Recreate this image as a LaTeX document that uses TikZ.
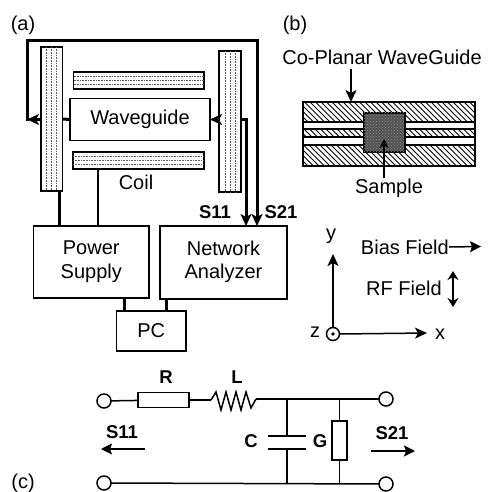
\documentclass[tikz,border=0pt]{standalone}
\usepackage{fontspec}
\setmainfont{Liberation Sans}
\usetikzlibrary{arrows.meta,patterns,calc}
\tikzset{
  box/.style={draw=black,line width=1.6pt,fill=white,inner sep=0pt,outer sep=0pt,font=\fontsize{20}{23.5}\selectfont,align=center},
  coilbox/.style={draw=black,line width=1.8pt,fill=white,inner sep=0pt,outer sep=0pt},
  stripe/.style={line width=1pt,black!65,dash pattern=on 0.8pt off 0.8pt},
  txt/.style={inner sep=0pt,font=\fontsize{20}{23.5}\selectfont},
  blab/.style={inner sep=0pt,font=\fontsize{18.5}{20}\bfseries\selectfont},
  wire/.style={line width=1.5pt},
  thk/.style={line width=3pt},
  tip/.style={-{Stealth[length=12pt,width=11pt,inset=3pt]}},
  smalltip/.style={-{Stealth[length=11pt,width=11pt,inset=2pt]}},
  term/.style={circle,draw=black,line width=1.5pt,fill=white,minimum size=14pt,inner sep=0pt,outer sep=0pt}
}
\begin{document}
\begin{tikzpicture}[x=1pt,y=-1pt]
\useasboundingbox (0,0) rectangle (489,492);
% ---------- (a)
\node[txt] (la) at (23,25) {(a)};
\node[coilbox,minimum width=21.5pt,minimum height=144pt] (lc) at (51.75,119) {};
\node[coilbox,minimum width=22pt,minimum height=141pt] (rc) at (230,121.5) {};
\node[coilbox,minimum width=130.5pt,minimum height=17pt] (tc) at (138.75,80.5) {};
\node[coilbox,minimum width=131pt,minimum height=17pt] (bc) at (138.5,160.5) {};
\foreach \d in {-5,0,5}{
  \draw[stripe] ($(lc.north)+(\d,0)$) -- ($(lc.south)+(\d,0)$);
  \draw[stripe] ($(rc.north)+(\d,0)$) -- ($(rc.south)+(\d,0)$);
}
\foreach \d in {-4,0,4}{
  \draw[stripe] ($(tc.west)+(0,\d)$) -- ($(tc.east)+(0,\d)$);
  \draw[stripe] ($(bc.west)+(0,\d)$) -- ($(bc.east)+(0,\d)$);
}
\node[box,minimum width=140pt,minimum height=42pt] (wg) at (140,119.5) {Waveguide};
\node[txt] (coil) at (136,182) {Coil};
\node[box,minimum width=115.5pt,minimum height=72pt,text depth=5pt] (ps) at (91.25,262) {Power\\Supply};
\node[box,minimum width=127pt,minimum height=73pt,text depth=5pt] (na) at (223.5,262.5) {Network\\Analyzer};
\node[box,minimum width=69.5pt,minimum height=40pt] (pc) at (151.25,331) {PC};
\coordinate (s11x) at (246,0);
\coordinate (s21x) at (257,0);
\coordinate (frameL) at (27,0);
\coordinate (frameT) at (0,41);
\draw[thk] (wg.west) -- (lc.east);
\draw[thk,tip] (lc.west |- wg.west) -- (frameL |- wg.west);
\draw[thk,line cap=rect] (frameL |- wg.west) -- (frameL |- frameT) -- (s21x |- frameT) -- (s21x |- 0,215);
\draw[thk,tip] (s21x |- 0,205) -- (s21x |- na.north);
\draw[thk,tip] (rc.west |- wg.east) -- (wg.east);
\draw[thk] (rc.east |- wg.east) -- (s11x |- wg.east) -- (s11x |- 0,215);
\draw[thk,tip] (s11x |- 0,205) -- (s11x |- na.north);
\draw[thk] (lc.south -| 59,0) -- (ps.north -| 59,0);
\draw[line width=2.4pt] (bc.south -| 98,0) -- (ps.north -| 98,0);
\draw[thk] (ps.south -| 124,0) -- (pc.north -| 124,0);
\draw[thk] (na.south -| 166,0) -- (pc.north -| 166,0);
\node[blab] (s11a) at (215,212) {S11};
\node[blab] (s21a) at (281,212) {S21};
% ---------- axes
\node[circle,draw=black,line width=1.5pt,minimum size=13pt,inner sep=0pt,outer sep=0pt] (o) at (333,334) {};
\fill (o.center) circle (1.8);
\node[txt] (zl) at (315,332) {z};
\node[txt] (yl) at (331,236) {y};
\node[txt] (xl) at (440,334) {x};
\coordinate (ya) at (333,254);
\coordinate (xa) at (427,333);
\draw[wire,tip] (o.north) -- (ya);
\draw[wire,tip] (o.east) -- (xa);
\node[txt,anchor=east] (bf) at (449,247) {Bias Field};
\coordinate (bfe) at (481,246.5);
\draw[wire,smalltip] (bf.east) -- (bfe);
\node[txt,anchor=east] (rf) at (442,288) {RF Field};
\coordinate (rf1) at (453,271);
\coordinate (rf2) at (453,307);
\draw[line width=2pt,{Stealth[length=9pt,width=11pt]}-{Stealth[length=9pt,width=11pt]}] (rf1) -- (rf2);
% ---------- (b)
\node[txt] (lb) at (295,25) {(b)};
\node[txt] (cp) at (382,57) {Co-Planar WaveGuide};
\coordinate (cpa1) at (351,69);
\node[inner sep=0pt,outer sep=0pt,minimum width=172pt,minimum height=64pt] (cpw) at (389,134) {};
\begin{scope}
\clip (cpw.south west) rectangle (cpw.north east);
\foreach \k in {-70,-64.5,...,175}{
  \draw[line width=1pt] ($(cpw.north west)+(\k,0)$) -- ++(66,66);
}
\end{scope}
\draw[line width=1.8pt] (cpw.south west) rectangle (cpw.north east);
\node[inner sep=0pt,outer sep=0pt,minimum width=172pt,minimum height=7pt,fill=white,draw=black,line width=1.5pt] (gap1) at (389,125.5) {};
\node[inner sep=0pt,outer sep=0pt,minimum width=172pt,minimum height=8pt,fill=white,draw=black,line width=1.5pt] (gap2) at (389,141) {};
\node[inner sep=0pt,outer sep=0pt,minimum width=41pt,minimum height=39pt,draw=black,line width=1.5pt,fill=black!68] (smp) at (384.5,132.5) {};
\fill[pattern=crosshatch dots,pattern color=white!55!black] (smp.south west) rectangle (smp.north east);
\draw[wire,tip] (cpa1) -- (cpw.north -| cpa1);
\node[txt] (sl) at (389,188) {Sample};
\draw[wire,{Stealth[length=9pt,width=9pt]}-] (384,139) -- (384,178);
% ---------- (c)
\node[txt] (lc2) at (23,483) {(c)};
\node[term] (t1) at (104,401) {};
\node[term] (t2) at (386,399) {};
\node[term] (t3) at (104,483) {};
\node[term] (t4) at (386,484) {};
\node[draw=black,line width=1.5pt,inner sep=0pt,outer sep=0pt,minimum width=51pt,minimum height=15pt] (rr) at (163.5,400) {};
\node[draw=black,line width=1.5pt,inner sep=0pt,outer sep=0pt,minimum width=15pt,minimum height=39pt] (gg) at (339.5,440.5) {};
\node[blab] (rl) at (166,377) {R};
\node[blab] (ll) at (237,377) {L};
\node[blab] (cl) at (251,441) {C};
\node[blab] (gl) at (320,441) {G};
\coordinate (l1) at (211,400);
\coordinate (l2) at (256,399);
\coordinate (j1) at (287,399.5);
\coordinate (j2) at (339.5,399.5);
\coordinate (b1) at (287,483);
\coordinate (b2) at (339.5,483);
\coordinate (p1) at (287,436);
\coordinate (p2) at (287,449);
\draw[wire] (t1) -- (rr);
\draw[wire] (rr) -- (l1);
\draw[wire] (l1) -- ++(5,-8) -- ++(5,18) -- ++(5,-18) -- ++(5,18) -- ++(5,-18) -- ++(5,18) -- ++(5,-18) -- ++(5,16) -- (l2);
\draw[wire] (l2) -- (t2);
\draw[wire] (t3) -- (t4);
\draw[wire] (j1) -- (p1);
\draw[wire] (p2) -- (b1);
\draw[wire] ($(p1)+(-19,0)$) -- ($(p1)+(19,0)$);
\draw[wire] ($(p2)+(-19,0)$) -- ($(p2)+(19,0)$);
\draw[wire] (j2) -- (gg);
\draw[wire] (gg) -- (b2);
\node[blab] (s11c) at (122,432) {S11};
\node[blab] (s21c) at (392,433) {S21};
\coordinate (a1) at (145,449);
\coordinate (a2) at (101,449);
\coordinate (a3) at (371,451);
\coordinate (a4) at (415,451);
\draw[wire,smalltip] (a1) -- (a2);
\draw[wire,smalltip] (a3) -- (a4);
\end{tikzpicture}
\end{document}
